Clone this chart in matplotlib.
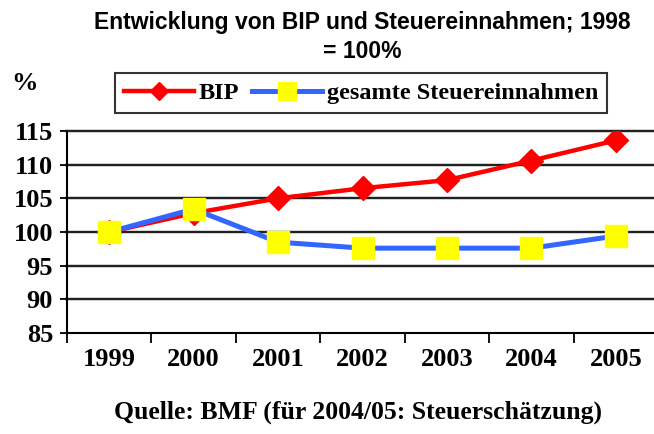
import matplotlib.pyplot as plt
import numpy as np

# data (1998 = 100)
years = ["1999", "2000", "2001", "2002", "2003", "2004", "2005"]
bip = [100.0, 102.8, 105.0, 106.5, 107.7, 110.6, 113.6]
steuer = [100.0, 103.4, 98.5, 97.6, 97.6, 97.6, 99.4]
y_ticks = [85, 90, 95, 100, 105, 110, 115]

serif = "Liberation Serif"
sans = "Liberation Sans"

fig = plt.figure(figsize=(6.54, 4.34), dpi=100)
ax = fig.add_axes([67 / 654, 1 - 333 / 434, 591 / 654, 202 / 434])

x = np.arange(1, len(years) + 1)

ax.plot(x, bip, color="#FF0000", lw=3.2, marker="D", ms=12.5,
        mec="#FF0000", mfc="#FF0000", label="BIP", zorder=3)
ax.plot(x, steuer, color="#3366FF", lw=3.6, marker="s", ms=16.5,
        mec="#FFFF00", mfc="#FFFF00", label="gesamte Steuereinnahmen", zorder=4)

ax.set_xlim(0.5, len(years) + 0.5)
ax.set_ylim(85, 115)

for yv in y_ticks[1:]:
    ax.axhline(yv, color="#C8C8C8", lw=2.6, zorder=1, clip_on=False)
    ax.axhline(yv, color="black", lw=1.2, zorder=1.5, clip_on=False)

ax.set_yticks(y_ticks)
ax.set_yticklabels([str(v) for v in y_ticks], fontfamily=serif,
                   fontweight="bold", fontsize=19)
ax.set_xticks(x)
ax.set_xticklabels(years, fontfamily=serif, fontweight="bold", fontsize=19)
ax.set_xticks(np.arange(0.5, len(years) + 1, 1), minor=True)

ax.tick_params(axis="x", which="major", length=0, pad=11)
ax.tick_params(axis="x", which="minor", length=7, width=1.3, direction="out")
ax.tick_params(axis="y", length=5, width=1.3, direction="out", pad=5)

for side in ["top", "right"]:
    ax.spines[side].set_visible(False)
for side in ["left", "bottom"]:
    ax.spines[side].set_linewidth(1.5)

fig.text(362 / 654, 1 - 23 / 434, "Entwicklung von BIP und Steuereinnahmen; 1998",
         ha="center", va="center", fontfamily=sans, fontweight="bold", fontsize=16.5)
fig.text(362 / 654, 1 - 51 / 434, "= 100%",
         ha="center", va="center", fontfamily=sans, fontweight="bold", fontsize=16.5)
fig.text(25 / 654, 1 - 84 / 434, "%", ha="center", va="center",
         fontfamily=serif, fontweight="bold", fontsize=19)
fig.text(358 / 654, 1 - 412 / 434, "Quelle: BMF (für 2004/05: Steuerschätzung)",
         ha="center", va="center", fontfamily=serif, fontweight="bold", fontsize=18.5)

leg = fig.legend(loc="center", bbox_to_anchor=(361 / 654, 1 - 93 / 434),
                 ncol=2, frameon=True, fancybox=False, borderpad=0.35,
                 handlelength=2.9, handletextpad=0.2, columnspacing=0.5,
                 markerscale=0.75,
                 prop={"family": serif, "weight": "bold", "size": 17.5})
leg.get_frame().set_edgecolor("black")
leg.get_frame().set_linewidth(1.5)

fig.savefig("out.png", dpi=100)
